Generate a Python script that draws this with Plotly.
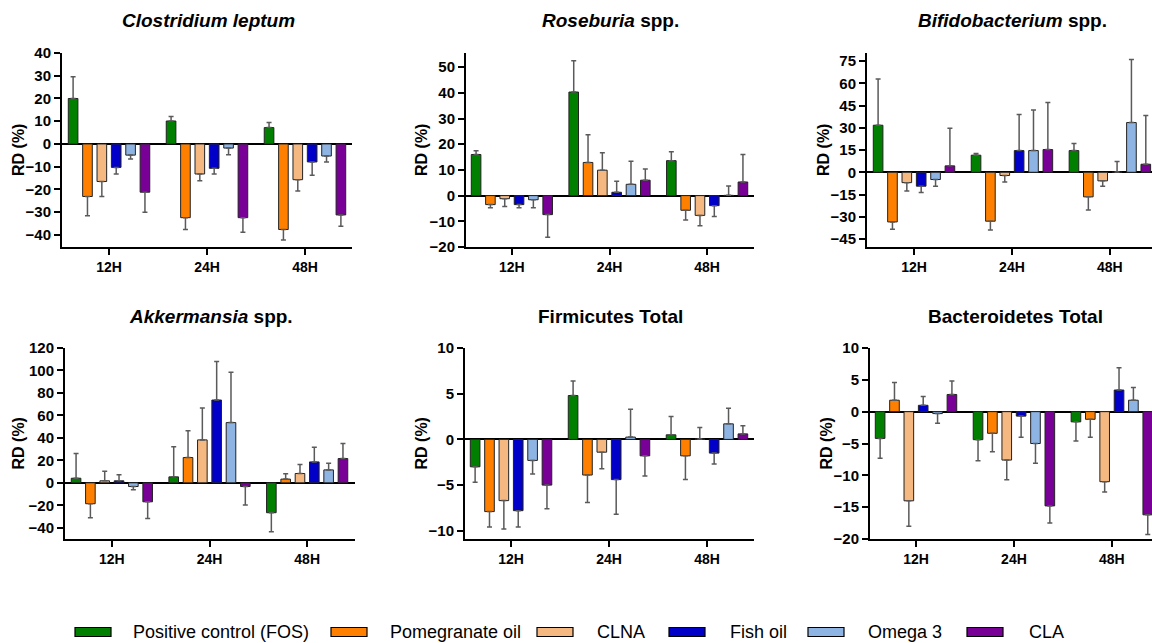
import plotly.graph_objects as go

# ---------------- data ----------------
times = ["12H", "24H", "48H"]
series = ["Positive control (FOS)", "Pomegranate oil", "CLNA", "Fish oil", "Omega 3", "CLA"]
colors = ["#007F00", "#FF8000", "#F5B880", "#0000C8", "#8EB4E3", "#780096"]

titles = ["<i>Clostridium leptum</i>", "<i>Roseburia</i> spp.", "<i>Bifidobacterium</i> spp.",
          "<i>Akkermansia</i> spp.", "Firmicutes Total", "Bacteroidetes Total"]

# rows = series (FOS, Pomegranate, CLNA, Fish oil, Omega 3, CLA), columns = 12H, 24H, 48H
clep_vals = [[20.0, 10.1, 7.2], [-23.1, -32.4, -37.6], [-16.5, -13.2, -15.7],
             [-10.3, -10.7, -7.9], [-4.9, -1.8, -5.3], [-21.2, -32.4, -31.2]]
clep_err = [[9.6, 2.0, 2.2], [8.5, 5.2, 4.6], [6.6, 3.0, 5.0],
            [2.9, 2.5, 5.9], [1.7, 2.9, 2.6], [8.8, 6.4, 5.0]]

rose_vals = [[16.0, 40.3, 13.6], [-3.5, 12.9, -5.7], [-1.2, 9.9, -7.7],
             [-3.5, 1.3, -3.9], [-1.6, 4.4, 0.1], [-7.4, 6.0, 5.3]]
rose_err = [[1.5, 12.2, 3.5], [1.2, 10.8, 3.8], [3.0, 6.8, 4.0],
            [1.2, 4.3, 4.2], [3.1, 9.0, 3.6], [8.8, 4.4, 10.7]]

bifi_vals = [[31.7, 11.5, 14.6], [-33.5, -33.0, -16.6], [-7.0, -2.2, -5.8],
             [-9.4, 14.6, 0.1], [-4.9, 14.6, 33.5], [4.3, 15.3, 5.4]]
bifi_err = [[31.2, 1.1, 4.7], [4.9, 5.9, 8.8], [5.6, 4.3, 3.6],
            [4.3, 24.3, 7.1], [4.5, 27.4, 42.5], [25.4, 31.7, 32.8]]

akke_vals = [[4.1, 5.3, -26.6], [-18.6, 22.5, 3.3], [1.8, 38.2, 8.3],
             [1.8, 73.7, 18.6], [-3.3, 53.6, 11.5], [-16.9, -3.3, 21.6]]
akke_err = [[21.9, 26.9, 16.9], [12.5, 23.9, 4.7], [8.6, 28.4, 8.0],
            [5.3, 34.3, 13.1], [2.9, 44.9, 6.0], [14.8, 16.5, 13.3]]

firm_vals = [[-3.0, 4.8, 0.5], [-7.9, -3.9, -1.8], [-6.7, -1.4, 0.05],
             [-7.8, -4.4, -1.5], [-2.3, 0.25, 1.7], [-5.0, -1.8, 0.6]]
firm_err = [[1.7, 1.6, 2.0], [1.7, 3.0, 2.6], [3.1, 1.8, 1.25],
            [1.8, 3.8, 1.2], [1.5, 3.05, 1.7], [2.6, 2.2, 0.9]]

bact_vals = [[-4.2, -4.4, -1.6], [1.8, -3.4, -1.2], [-14.0, -7.6, -11.0],
             [1.0, -0.7, 3.4], [-0.3, -5.0, 1.8], [2.7, -14.8, -16.2]]
bact_err = [[3.1, 3.3, 3.0], [2.8, 2.9, 2.8], [4.0, 3.1, 1.6],
            [1.4, 3.3, 3.5], [1.5, 3.1, 2.0], [2.1, 2.7, 3.1]]

y_ranges = [[-45.3, 40], [-20, 55.5], [-50.4, 80.4], [-50, 120], [-10.9, 10], [-20, 10]]
y_ticks = [list(range(-40, 41, 10)), list(range(-20, 51, 10)), list(range(-45, 76, 15)),
           list(range(-40, 121, 20)), list(range(-10, 11, 5)), list(range(-20, 11, 5))]

# ---------------- layout geometry (page pixels) ----------------
W, H = 1152, 643
panels_vals = [clep_vals, rose_vals, bifi_vals, akke_vals, firm_vals, bact_vals]
panels_err = [clep_err, rose_err, bifi_err, akke_err, firm_err, bact_err]


def px(x):
    return x / W


def py(y):
    return (H - y) / H


x_px = [(62, 352), (466, 754), (867, 1152), (65, 355), (465, 754), (870, 1152)]
x_rng = [(-0.48, 2.48), (-0.47, 2.48), (-0.48, 2.43), (-0.48, 2.49), (-0.47, 2.48), (-0.47, 2.41)]
y_px = [(53, 247)] * 3 + [(348, 539)] * 3
title_pos = [(208, 21), (610, 21), (1012, 21), (211, 316), (610, 316), (1015, 316)]
ytitle_x = [18, 421, 823, 18, 421, 826]

FONT = "Arial, Liberation Sans, Helvetica, sans-serif"

fig = go.Figure()
for p in range(6):
    ax = "" if p == 0 else str(p + 1)
    for s in range(6):
        vals = panels_vals[p][s]
        errs = panels_err[p][s]
        plus = [e if v >= 0 else 0 for v, e in zip(vals, errs)]
        minus = [e if v < 0 else 0 for v, e in zip(vals, errs)]
        fig.add_trace(go.Bar(
            x=times, y=vals, name=series[s], showlegend=False,
            marker=dict(color=colors[s], line=dict(color="#222222", width=1)),
            error_y=dict(type="data", symmetric=False, array=plus, arrayminus=minus,
                         color="#5a5a5a", thickness=1.5, width=2.5),
            xaxis="x" + ax, yaxis="y" + ax, offsetgroup=str(s),
        ))

layout = dict(
    width=W, height=H, margin=dict(l=0, r=0, t=0, b=0),
    paper_bgcolor="white", plot_bgcolor="white",
    barmode="group", bargap=0.12, bargroupgap=0.33,
    font=dict(family=FONT, color="black"),
    showlegend=False,
)
annotations = []
shapes = []
for p in range(6):
    ax = "" if p == 0 else str(p + 1)
    x0, x1 = x_px[p]
    yt, yb = y_px[p]
    layout["xaxis" + ax] = dict(
        domain=[px(x0), min(1.0, px(x1))], range=list(x_rng[p]), type="category",
        anchor="y" + ax, showline=True, linecolor="black", linewidth=2,
        ticks="outside", ticklen=6, tickwidth=2, tickcolor="black",
        showgrid=False, zeroline=False, automargin=False,
        tickfont=dict(family=FONT, size=14, color="black", weight="bold"),
        fixedrange=True,
    )
    layout["yaxis" + ax] = dict(
        domain=[py(yb), py(yt)], range=y_ranges[p],
        anchor="x" + ax, showline=True, linecolor="black", linewidth=2,
        ticks="outside", ticklen=6, tickwidth=2, tickcolor="black",
        tickvals=y_ticks[p], showgrid=False,
        zeroline=True, zerolinecolor="black", zerolinewidth=2,
        automargin=False,
        tickfont=dict(family=FONT, size=15, color="black", weight="bold"),
        fixedrange=True,
    )
    tx, ty = title_pos[p]
    annotations.append(dict(
        text="<b>" + titles[p] + "</b>", x=px(tx), y=py(ty), xref="paper", yref="paper",
        xanchor="center", yanchor="middle", showarrow=False,
        font=dict(family=FONT, size=19, color="black"),
    ))
    annotations.append(dict(
        text="<b>RD (%)</b>", x=px(ytitle_x[p]), y=py((yt + yb) / 2),
        xref="paper", yref="paper", xanchor="center", yanchor="middle",
        showarrow=False, textangle=-90,
        font=dict(family=FONT, size=16, color="black"),
    ))

# manual legend (wide flat swatches like the original)
sw_x = [75, 331, 537, 669, 808, 967]
tx_x = [131, 388, 595, 728, 866, 1027]
leg_y = 632
for s in range(6):
    shapes.append(dict(
        type="rect", xref="paper", yref="paper",
        x0=px(sw_x[s]), x1=px(sw_x[s] + 36),
        y0=py(leg_y + 4.5), y1=py(leg_y - 4.5),
        fillcolor=colors[s], line=dict(color="black", width=1.2),
    ))
    annotations.append(dict(
        text=series[s], x=px(tx_x[s]), y=py(leg_y), xref="paper", yref="paper",
        xanchor="left", yanchor="middle", showarrow=False,
        font=dict(family=FONT, size=18, color="black"),
    ))

layout["annotations"] = annotations
layout["shapes"] = shapes
fig.update_layout(**layout)
fig.write_html("out.html",
               config={"displayModeBar": False, "staticPlot": True},
               post_script="document.body.style.margin='0px';document.body.style.overflow='hidden';")
